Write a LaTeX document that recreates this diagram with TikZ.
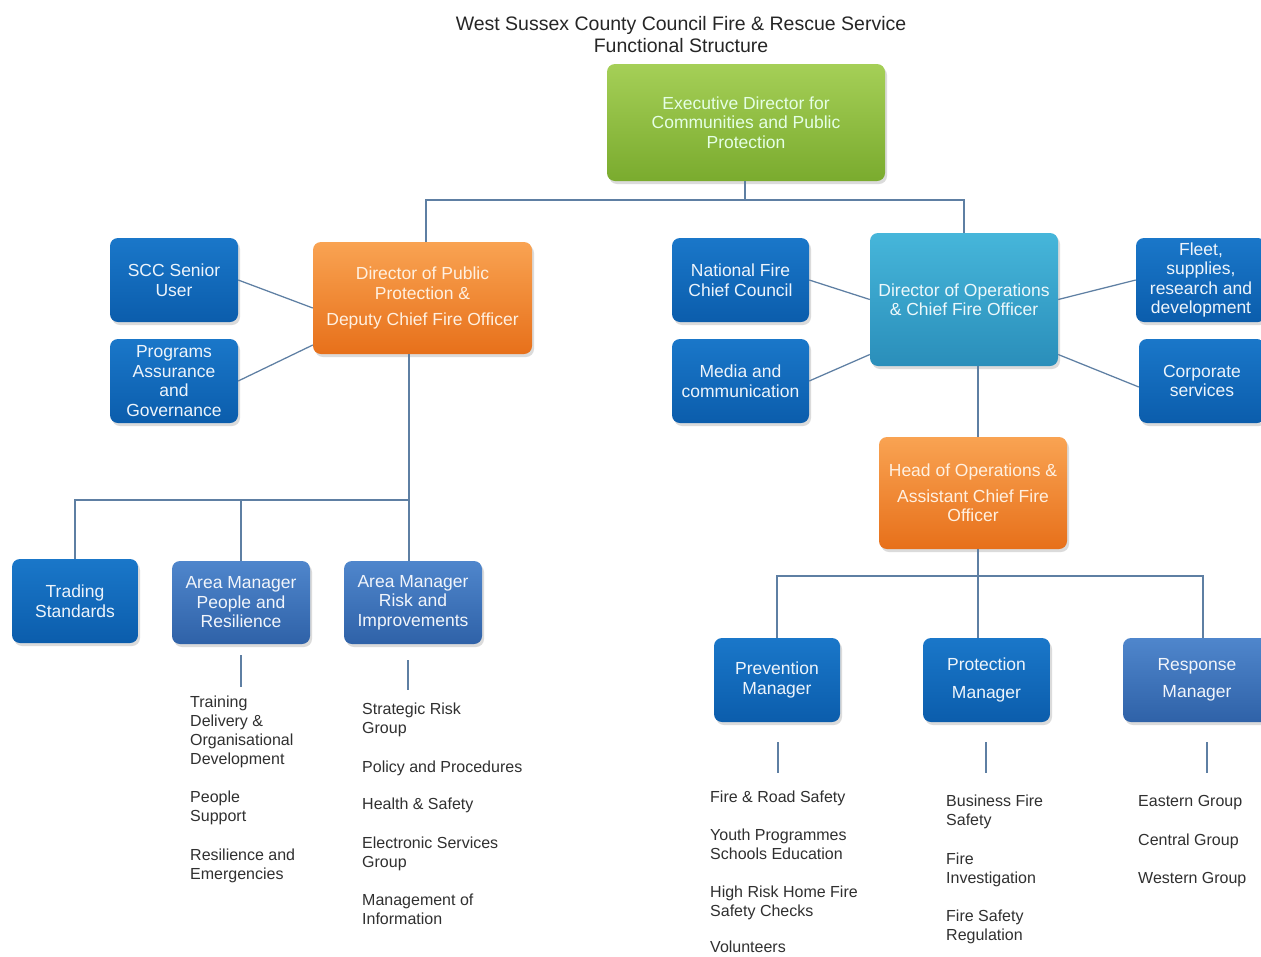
\documentclass[tikz,border=0pt]{standalone}
\usepackage{fontspec}
\setmainfont{Liberation Sans}
\usetikzlibrary{shadows}
\definecolor{lineC}{HTML}{5E7FA3}
\definecolor{blueT}{HTML}{1A77C9}
\definecolor{blueB}{HTML}{0B5DAC}
\definecolor{amT}{HTML}{4F86CC}
\definecolor{amB}{HTML}{2F62A8}
\definecolor{tealT}{HTML}{46B6DA}
\definecolor{tealB}{HTML}{2A8EBA}
\definecolor{orT}{HTML}{F9A352}
\definecolor{orB}{HTML}{E7701A}
\definecolor{grT}{HTML}{A5CF57}
\definecolor{grB}{HTML}{7AAB2E}
\definecolor{listC}{HTML}{303030}
\tikzset{
  bx/.style={rounded corners=8pt, align=center, inner sep=0pt,
    font=\fontsize{17.5}{19.5}\selectfont,
    drop shadow={opacity=0.28, shadow xshift=2pt, shadow yshift=-3pt}},
  bluebox/.style={bx, top color=blueT, bottom color=blueB, text=white!92!blueT},
  ambox/.style={bx, top color=amT, bottom color=amB, text=white!92!amT},
  tealbox/.style={bx, top color=tealT, bottom color=tealB, text=white!90!tealT},
  orbox/.style={bx, top color=orT, bottom color=orB, text=orange!12!white},
  grbox/.style={bx, top color=grT, bottom color=grB, text=green!10!white},
  conn/.style={draw=lineC, line width=1.25pt},
  listtxt/.style={anchor=north west, align=left, inner sep=0pt, text=listC,
    font=\fontsize{16}{19}\selectfont},
  ttl/.style={inner sep=0pt, font=\fontsize{19.5}{21}\selectfont, text=black!85}
}
\begin{document}
\begin{tikzpicture}[x=1pt,y=-1pt]
\useasboundingbox (0,0) rectangle (1261,956);
\fill[white] (0,0) rectangle (1261,956);
\clip (0,0) rectangle (1261,956);

% title
\node[ttl] (t1) at (681,25) {West Sussex County Council Fire \& Rescue Service};
\node[ttl] (t2) at (681,46) {Functional Structure};

% boxes
\node[grbox, minimum width=278pt, minimum height=117pt] (exec) at (746,122.5)
  {Executive Director for\\Communities and Public\\Protection};
\node[orbox, minimum width=219pt, minimum height=112pt] (dirpp) at (422.5,298)
  {Director of Public\\Protection \&\\[7pt]Deputy Chief Fire Officer};
\node[bluebox, minimum width=128pt, minimum height=84pt] (scc) at (174,280)
  {SCC Senior\\User};
\node[bluebox, minimum width=128pt, minimum height=84pt] (pag) at (174,381)
  {Programs\\Assurance\\and\\Governance};
\node[bluebox, minimum width=137pt, minimum height=84pt] (nfcc) at (740.5,280)
  {National Fire\\Chief Council};
\node[bluebox, minimum width=137pt, minimum height=84pt] (media) at (740.5,381)
  {Media and\\communication};
\node[tealbox, minimum width=188pt, minimum height=133pt] (dirops) at (964,299.5)
  {Director of Operations\\\& Chief Fire Officer};
\node[bluebox, minimum width=130pt, minimum height=84pt] (fleet) at (1201,280)
  {Fleet,\\supplies,\\research and\\development};
\node[bluebox, minimum width=126pt, minimum height=84pt] (corp) at (1202,381)
  {Corporate\\services};
\node[orbox, minimum width=188pt, minimum height=112pt] (headops) at (973,493)
  {Head of Operations \&\\[6pt]Assistant Chief Fire\\Officer};
\node[bluebox, minimum width=126pt, minimum height=84pt] (trading) at (75,601)
  {Trading\\Standards};
\node[ambox, minimum width=138pt, minimum height=83pt] (amp) at (241,602.5)
  {Area Manager\\People and\\Resilience};
\node[ambox, minimum width=138pt, minimum height=83pt] (amr) at (413,602.5)
  {Area Manager\\Risk and\\Improvements};
\node[bluebox, minimum width=126pt, minimum height=84pt] (prevm) at (777,680)
  {Prevention\\Manager};
\node[bluebox, minimum width=127pt, minimum height=84pt] (protm) at (986.5,680)
  {Protection\\[8pt]Manager};
\node[ambox, minimum width=148pt, minimum height=84pt] (respm) at (1197,680)
  {Response\\[8pt]Manager};

% connectors
\coordinate (j1) at (745,200);
\coordinate (j1l) at (426,200);
\draw[conn] (exec.south -| j1) -- (j1);
\draw[conn] (j1) -- (j1l) -- (dirpp.north -| j1l);
\draw[conn] (j1) -| (dirops.north);

\draw[conn] (scc.east) -- ([yshift=-10pt]dirpp.west);
\draw[conn] (pag.east) -- ([yshift=-47pt]dirpp.west);
\draw[conn] (nfcc.east) -- (dirops.west);
\draw[conn] (media.east) -- ([yshift=-55pt]dirops.west);
\draw[conn] (fleet.west) -- (dirops.east);
\draw[conn] ([yshift=-6pt]corp.west) -- ([yshift=-55pt]dirops.east);

\coordinate (j2) at (409,500);
\draw[conn] (dirpp.south -| j2) -- (j2);
\draw[conn] (j2) -| (trading.north);
\draw[conn] (j2) -| (amp.north);
\draw[conn] (j2) -- (amr.north -| j2);

\coordinate (j3) at (978,576);
\coordinate (j3r) at (1203,576);
\draw[conn] (dirops.south -| j3) -- (headops.north -| j3);
\draw[conn] (headops.south -| j3) -- (protm.north -| j3);
\draw[conn] (j3) -| (prevm.north);
\draw[conn] (j3) -- (j3r) -- (respm.north -| j3r);

% stubs below boxes
\coordinate (s1a) at (241,655); \coordinate (s1b) at (241,687);
\coordinate (s2a) at (408,660); \coordinate (s2b) at (408,690);
\coordinate (s3a) at (778,742); \coordinate (s3b) at (778,773);
\coordinate (s4a) at (986,742); \coordinate (s4b) at (986,773);
\coordinate (s5a) at (1207,742); \coordinate (s5b) at (1207,773);
\draw[conn] (s1a) -- (s1b);
\draw[conn] (s2a) -- (s2b);
\draw[conn] (s3a) -- (s3b);
\draw[conn] (s4a) -- (s4b);
\draw[conn] (s5a) -- (s5b);

% lists
\node[listtxt] (l1a) at (190,696) {Training\\Delivery \&\\Organisational\\Development};
\node[listtxt] (l1b) at (190,791) {People\\Support};
\node[listtxt] (l1c) at (190,849) {Resilience and\\Emergencies};

\node[listtxt] (l2a) at (362,703) {Strategic Risk\\Group};
\node[listtxt] (l2b) at (362,761) {Policy and Procedures};
\node[listtxt] (l2c) at (362,798) {Health \& Safety};
\node[listtxt] (l2d) at (362,837) {Electronic Services\\Group};
\node[listtxt] (l2e) at (362,894) {Management of\\Information};

\node[listtxt] (l3a) at (710,791) {Fire \& Road Safety};
\node[listtxt] (l3b) at (710,829) {Youth Programmes\\Schools Education};
\node[listtxt] (l3c) at (710,886) {High Risk Home Fire\\Safety Checks};
\node[listtxt] (l3d) at (710,941) {Volunteers};

\node[listtxt] (l4a) at (946,795) {Business Fire\\Safety};
\node[listtxt] (l4b) at (946,853) {Fire\\Investigation};
\node[listtxt] (l4c) at (946,910) {Fire Safety\\Regulation};

\node[listtxt] (l5a) at (1138,795) {Eastern Group};
\node[listtxt] (l5b) at (1138,834) {Central Group};
\node[listtxt] (l5c) at (1138,872) {Western Group};
\end{tikzpicture}
\end{document}
